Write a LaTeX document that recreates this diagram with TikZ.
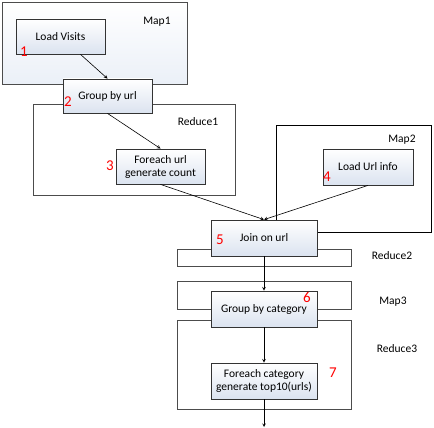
\documentclass[tikz,border=0pt]{standalone}
\usepackage{fontspec}
\setmainfont{Carlito}
\usepackage{xcolor}
\usepackage{tikz}
\usetikzlibrary{positioning}
\tikzset{c-step/.style={rectangle, minimum width=89pt, minimum height=35pt, inner sep=1pt, align=center, draw=black!80, line width=0.8pt, top color=white, bottom color=c_shade, font=\fontsize{11.5}{13}\selectfont},
c-wide/.style={minimum width=106pt, minimum height=36pt},
c-group/.style={rectangle, anchor=north west, inner sep=0pt, draw=black!70, line width=0.9pt, fill=white},
c-label/.style={inner sep=0pt, font=\fontsize{11.5}{13}\selectfont},
c-num/.style={inner sep=0pt, text=red, font=\fontsize{15}{15}\selectfont},
arrow/.style={line width=0.6pt,->,>=stealth}}
\definecolor{c_shade}{rgb}{0.86, 0.89, 0.94}
\definecolor{c_map}{rgb}{0.92, 0.94, 0.97}
\begin{document}
\begin{tikzpicture}[x=1pt, y=-1pt, node distance=71pt]
\useasboundingbox (0,0) rectangle (434,428);
% phase boxes
\node (map1) [c-group, minimum width=185pt, minimum height=82pt, top color=white, bottom color=c_map] at (2,2) {};
\node (reduce1) [c-group, minimum width=202pt, minimum height=91pt] at (33,104) {};
\node (map2) [c-group, minimum width=155pt, minimum height=107pt, draw=black] at (276,125) {};
\node (reduce2) [c-group, minimum width=174pt, minimum height=17pt] at (177,249) {};
\node (map3) [c-group, minimum width=174pt, minimum height=28pt] at (177,281) {};
\node (reduce3) [c-group, minimum width=174pt, minimum height=89pt] at (177,320) {};
\node (l-map1) [c-label] at (157,22) {Map1};
\node (l-reduce1) [c-label] at (198,122) {Reduce1};
\node (l-map2) [c-label] at (402,140) {Map2};
\node (l-reduce2) [c-label] at (392,256) {Reduce2};
\node (l-map3) [c-label] at (393,302) {Map3};
\node (l-reduce3) [c-label] at (397,349) {Reduce3};
% steps
\node (n1) [c-step] at (60.5,36.5) {Load Visits};
\node (n2) [c-step, minimum height=34pt] at (107.5,96) {Group by url};
\node (n3) [c-step] at (160.5,166.5) {Foreach url\\generate count};
\node (n4) [c-step, minimum width=90pt, minimum height=36pt] at (368,167) {Load Url info};
\node (n5) [c-step, c-wide] at (264,238) {Join on url};
\node (n6) [c-step, c-wide, below of=n5] {Group by category};
\node (n7) [c-step, c-wide, below of=n6, yshift=-1pt] {Foreach category\\generate top10(urls)};
\coordinate (out) at (264,427);
% step numbers
\node (k1) [c-num] at (24,52) {1};
\node (k2) [c-num] at (68,102) {2};
\node (k3) [c-num] at (110,166) {3};
\node (k4) [c-num] at (327,177) {4};
\node (k5) [c-num] at (220,240) {5};
\node (k6) [c-num] at (307,297) {6};
\node (k7) [c-num] at (333,373) {7};
\draw [arrow] ([xshift=20pt]n1.south) -- (n2.north);
\draw [arrow] (n2.south) -- (n3.north);
\draw [arrow] (n3.south) -- (n5.north);
\draw [arrow] (n4.south) -- (n5.north);
\draw [arrow] (n5.south) -- (n6.north);
\draw [arrow] (n6.south) -- (n7.north);
\draw [arrow] (n7.south) -- (out);
\end{tikzpicture}
\end{document}
